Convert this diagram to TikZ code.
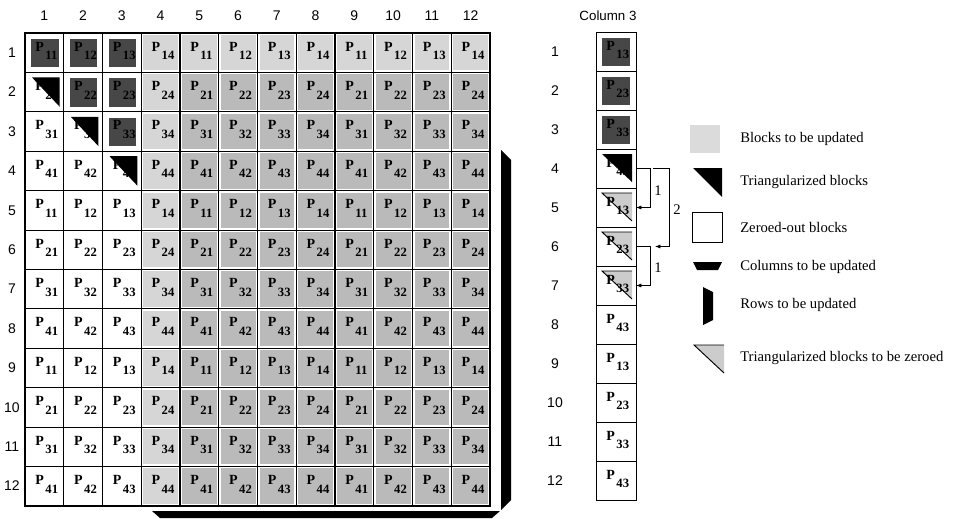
\documentclass[tikz,border=0pt]{standalone}
\usepackage{fontspec}
\setmainfont{Liberation Serif}
\newfontfamily\helv{Liberation Sans}
\usetikzlibrary{arrows.meta}

\newcommand{\plab}[1]{{\bfseries\fontsize{10.5}{11}\selectfont P\kern1.2pt\raisebox{-6.5pt}{\fontsize{9.5}{10}\selectfont #1}}}

\begin{document}
\begin{tikzpicture}[x=0.75pt, y=-0.75pt,
    cell/.style={draw, line width=0.5pt, minimum width=29.06pt, minimum height=29.55pt, inner sep=0pt, outer sep=0pt},
    scell/.style={cell, minimum width=30pt, minimum height=29.25pt},
    num/.style={font=\helv\fontsize{10.5}{12}\selectfont, inner sep=0pt},
    lab/.style={anchor=base west, inner sep=0pt},
    key/.style={anchor=west, inner sep=0pt, font=\fontsize{11}{13}\selectfont},
    tip/.style={-{Latex[length=4pt,width=3pt]}, line width=0.5pt},
  ]
    \useasboundingbox (0,0) rectangle (963,518);

    % the 12x12 block matrix
    \foreach \r in {1,...,12} {
        \foreach \c in {1,...,12} {
            \node[cell] (m-\r-\c) at ({25+(\c-0.5)*38.75}, {33+(\r-0.5)*39.4}) {};
        }
    }
    \foreach \r in {1,...,12} {
        \foreach \c in {1,...,12} {
            \pgfmathtruncatemacro\i{mod(\r-1,4)+1}
            \pgfmathtruncatemacro\j{mod(\c-1,4)+1}
            \ifnum\c>3
                \pgfmathtruncatemacro\pct{(\c==4 || \r==1) ? 16 : 27}
                \fill[black!\pct] ([shift={(2,2)}]m-\r-\c.north west) rectangle ([shift={(-2,-2)}]m-\r-\c.south east);
            \else
                \ifnum\r<\numexpr\c+1\relax
                    \fill[black!72] ([shift={(6,6)}]m-\r-\c.north west) rectangle ([shift={(-5,-5)}]m-\r-\c.south east);
                \else\ifnum\r=\numexpr\c+1\relax
                    \fill ([shift={(7,5)}]m-\r-\c.north west) -- ([shift={(-4,5)}]m-\r-\c.north east) -- ([shift={(-4,-5)}]m-\r-\c.south east) -- cycle;
                \fi\fi
            \fi
            \node[lab] (p-\r-\c) at ([shift={(10,18)}]m-\r-\c.north west) {\plab{\i\j}};
        }
    }
    \draw[line width=1.1pt] (m-1-4.north east) -- (m-12-4.south east);
    \draw[line width=1.1pt] (m-1-8.north east) -- (m-12-8.south east);
    \draw[line width=1.1pt] (m-1-1.north west) rectangle (m-12-12.south east);

    \foreach \c in {1,...,12}
        \node[num] (cn-\c) at ({25+(\c-0.5)*38.75}, 16) {\c};
    \foreach \r in {1,...,12}
        \node[num] (rn-\r) at (12, {33+(\r-0.5)*39.4}) {\r};

    % bars for rows and columns
    \fill (501,150) -- (511,160) -- (511,500) -- (501,510) -- cycle;
    \fill (152,511) -- (500,511) -- (492,518) -- (160,518) -- cycle;

    % column 3
    \node[num, font=\helv\fontsize{10}{12}\selectfont] (ctitle) at (608,16) {Column 3};
    \foreach \r in {1,...,12} {
        \pgfmathtruncatemacro\i{mod(\r-1,4)+1}
        \node[scell, line width=0.7pt] (s-\r) at (616, {32+(\r-0.5)*39}) {};
        \node[num] (sn-\r) at (555, {32+(\r-0.5)*39}) {\r};
        \ifnum\r<4
            \fill[black!72] ([shift={(6,6)}]s-\r.north west) rectangle ([shift={(-6,-5)}]s-\r.south east);
        \fi
        \ifnum\r=4
            \fill ([shift={(6,5)}]s-\r.north west) -- ([shift={(-4,5)}]s-\r.north east) -- ([shift={(-4,-6)}]s-\r.south east) -- cycle;
        \fi
        \ifnum\r>4 \ifnum\r<8
            \fill[black!20] ([shift={(6,5)}]s-\r.north west) -- ([shift={(-4,5)}]s-\r.north east) -- ([shift={(-4,-6)}]s-\r.south east) -- cycle;
            \draw[line width=0.7pt] ([shift={(-4,5)}]s-\r.north east) -- ([shift={(6,5)}]s-\r.north west) -- ([shift={(-4,-6)}]s-\r.south east);
        \fi\fi
        \node[lab] (q-\r) at ([shift={(10,18)}]s-\r.north west) {\plab{\i3}};
    }
    \draw[tip] (s-4.east) -- ++(14,0) |- (s-5.east);
    \draw[tip] ([xshift=12.75pt]s-4.east) -- ++(16,0) |- ([xshift=14.25pt]s-6.east);
    \draw[tip] (s-6.east) -- ++(14,0) |- (s-7.east);
    \node[inner sep=0pt, font=\fontsize{11}{13}\selectfont] (one-a) at (658,191) {1};
    \node[inner sep=0pt, font=\fontsize{11}{13}\selectfont] (two) at (677,210) {2};
    \node[inner sep=0pt, font=\fontsize{11}{13}\selectfont] (one-b) at (658,268) {1};

    % legend
    \fill[black!14] (690,125) rectangle (720,153);
    \node[key] (k-upd) at (740,139) {Blocks to be updated};
    \fill (693,168) -- (722,168) -- (722,197) -- cycle;
    \node[key] (k-tri) at (740,182) {Triangularized blocks};
    \draw[line width=0.6pt] (692,212) rectangle (722,242);
    \node[key] (k-zero) at (740,227) {Zeroed-out blocks};
    \fill (693,262) -- (722,262) -- (718,270) -- (697,270) -- cycle;
    \node[key] (k-col) at (740,267) {Columns to be updated};
    \fill (703,287) -- (713,292) -- (713,320) -- (703,325) -- cycle;
    \node[key] (k-row) at (740,305) {Rows to be updated};
    \fill[black!20] (694,345) -- (724,345) -- (724,373) -- cycle;
    \draw[line width=0.7pt] (724,345) -- (694,345) -- (724,373);
    \node[key] (k-tz) at (740,358) {Triangularized blocks to be zeroed};
\end{tikzpicture}
\end{document}
